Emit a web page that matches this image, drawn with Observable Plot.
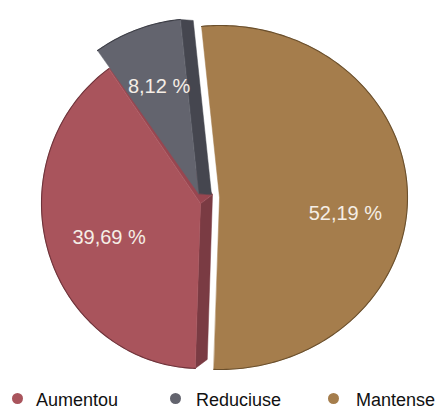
<!DOCTYPE html>
<html>
<head>
<meta charset="utf-8">
<script src="https://cdn.jsdelivr.net/npm/d3@7"></script>
<script src="https://cdn.jsdelivr.net/npm/@observablehq/plot@0.6"></script>
<style>
  html, body { margin: 0; padding: 0; background: #fff; }
  #wrap { position: relative; width: 439px; height: 409px; font-family: "Liberation Sans", Arial, sans-serif; }
  #chart { position: absolute; left: 0; top: 0; }
  .leg { position: absolute; top: 389px; height: 23px; line-height: 23px; font-size: 18px; color: #111; white-space: nowrap; }
  .leg .dot { position: absolute; top: 3.5px; width: 11px; height: 11px; border-radius: 50%; }
  .leg .txt { position: absolute; top: 0; }
</style>
</head>
<body>
<div id="wrap"><div id="chart"></div></div>
<script>
// ---- data ----
const categories = ["Mantense", "Aumentou", "Reduciuse"];
const values = [52.19, 39.69, 8.12];
const valueLabels = ["52,19 %", "39,69 %", "8,12 %"];
const legendOrder = ["Aumentou", "Reduciuse", "Mantense"];
const sliceColors = ["#a57d4c", "#a9545c", "#63646e"];
const sideColors = [null, "#7a3b43", "#45464f"];
const edgeColors = ["#6a4f2c", "#6e333a", "#3e3f47"];

// ---- layout (perspective-ish geometry per slice) ----
const W = 439, H = 380;
const START = -6; // degrees, clockwise from 12 o'clock
const geom = {
  Mantense:  {cx: 219, cy: 197, rxL: 172, rxR: 188, ry: 172, lf: 0.67, ldy: 20, faces: []},
  Aumentou:  {cx: 200, cy: 203, rxL: 159, rxR: 159, ry: 165, lf: 0.60, ldy: 6, depth: [12, -9], faces: ["start", "end"]},
  Reduciuse: {cx: 198, cy: 193, rxL: 175, rxR: 175, ry: 175, lf: 0.64, ldy: -2, depth: [13, 1], faces: ["end"]}
};

const data = categories.map((c, i) => ({category: c, value: values[i], label: valueLabels[i], color: sliceColors[i], side: sideColors[i], edge: edgeColors[i]}));
const arcs = d3.pie().sort(null).value(d => d.value)
  .startAngle(START * Math.PI / 180).endAngle((START + 360) * Math.PI / 180)(data);

function pt(g, a) {
  const u = Math.sin(a), v = -Math.cos(a);
  return [g.cx + (u < 0 ? g.rxL : g.rxR) * u, g.cy + g.ry * v];
}

const fronts = [], sides = [], rims = [], labelsRows = [];
arcs.forEach((arc, i) => {
  const d = arc.data, g = geom[d.category];
  const n = Math.max(2, Math.ceil((arc.endAngle - arc.startAngle) / (Math.PI / 180)));
  const arcPts = d3.range(n + 1).map(k => pt(g, arc.startAngle + (arc.endAngle - arc.startAngle) * k / n));
  fronts.push({id: d.category + "-apex", x: g.cx, y: g.cy, fill: d.color, id2: d.category});
  arcPts.forEach(p => fronts.push({x: p[0], y: p[1], fill: d.color, id2: d.category}));
  arcPts.forEach(p => rims.push({x: p[0], y: p[1], stroke: d.edge, id2: d.category}));
  // radial side faces (extrusion)
  g.faces.forEach(which => {
    const a = which === "start" ? arc.startAngle : arc.endAngle;
    const p = pt(g, a), [dx, dy] = g.depth;
    const fid = d.category + "-" + which;
    const col = which === "start" ? d.side : (d.category === "Aumentou" ? "#984650" : d.side);
    [[g.cx, g.cy], p, [p[0] + dx, p[1] + dy], [g.cx + dx, g.cy + dy]]
      .forEach(q => sides.push({x: q[0], y: q[1], fill: col, id2: fid}));
  });
  const mid = (arc.startAngle + arc.endAngle) / 2;
  const u = Math.sin(mid), v = -Math.cos(mid);
  labelsRows.push({
    x: g.cx + (u < 0 ? g.rxL : g.rxR) * u * g.lf,
    y: g.cy + g.ry * v * g.lf + g.ldy,
    text: d.label
  });
});

const chart = Plot.plot({
  width: W,
  height: H,
  margin: 0,
  x: {type: "identity", axis: null},
  y: {type: "identity", axis: null},
  color: {type: "identity"},
  style: {fontFamily: "'Liberation Sans', Arial, sans-serif", background: "transparent"},
  marks: [
    Plot.line(sides, {x: "x", y: "y", z: "id2", fill: "fill", stroke: "fill", strokeWidth: 0.5, curve: "linear-closed"}),
    Plot.line(fronts.filter(r => r.id2 !== "Mantense"), {x: "x", y: "y", z: "id2", fill: "fill", stroke: "fill", strokeWidth: 0.5, curve: "linear-closed"}),
    Plot.line(fronts.filter(r => r.id2 === "Mantense"), {x: "x", y: "y", z: "id2", fill: "fill", stroke: "fill", strokeWidth: 0.5, curve: "linear-closed"}),
    Plot.line(rims, {x: "x", y: "y", z: "id2", stroke: "stroke", strokeWidth: 1.1}),
    Plot.text(labelsRows, {x: "x", y: "y", text: "text", fill: "#f5eee6", fontSize: 20})
  ]
});
document.getElementById("chart").appendChild(chart);

// ---- legend ----
const legendPos = {Aumentou: [17, 36], Reduciuse: [175, 196], Mantense: [333, 356]};
const wrap = document.getElementById("wrap");
legendOrder.forEach(name => {
  const i = categories.indexOf(name);
  const item = document.createElement("div");
  item.className = "leg";
  item.style.left = "0px";
  const dot = document.createElement("span");
  dot.className = "dot";
  dot.style.left = (legendPos[name][0] - 5.5) + "px";
  dot.style.background = sliceColors[i];
  const txt = document.createElement("span");
  txt.className = "txt";
  txt.style.left = legendPos[name][1] + "px";
  txt.textContent = name;
  item.appendChild(dot); item.appendChild(txt);
  wrap.appendChild(item);
});
</script>
</body>
</html>
